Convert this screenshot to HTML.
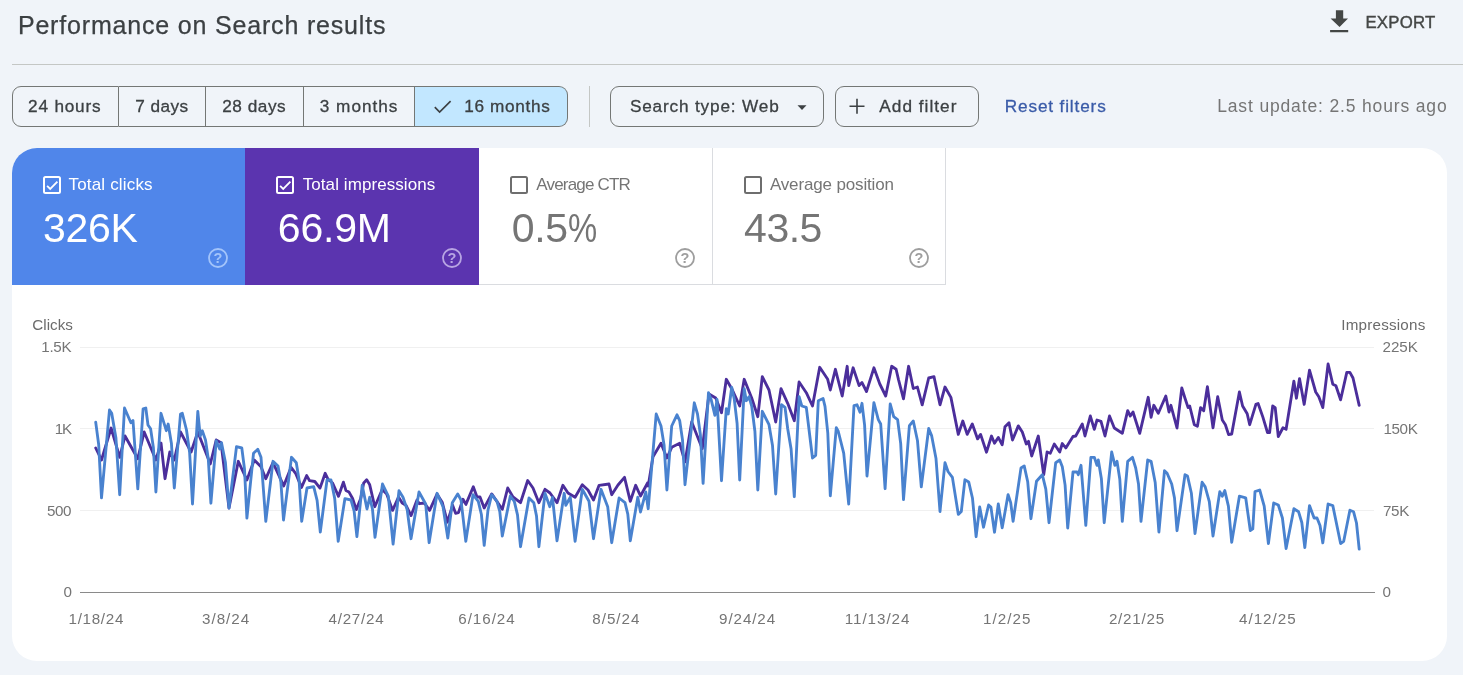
<!DOCTYPE html>
<html lang="en">
<head>
<meta charset="utf-8">
<title>Performance on Search results</title>
<style>
*{box-sizing:border-box;margin:0;padding:0}
html,body{width:1463px;height:675px;overflow:hidden;background:#f0f4f9;font-family:"Liberation Sans",sans-serif}
.a{position:absolute}
.t{position:absolute;white-space:nowrap}
.seg{position:absolute;top:86px;height:41px;border:1px solid #747775;border-left:none}
.btn{position:absolute;top:86px;height:41px;border:1px solid #747775;border-radius:9px}
.cb{position:absolute;top:175.5px;width:18px;height:18px;border:2px solid #fff;border-radius:2.5px}
</style>
</head>
<body>
<!-- header -->
<svg class="a" style="left:1328px;top:8px" width="24" height="26" viewBox="0 0 24 26"><path d="M7.9 2.3h7.3v8.1h4.8L11.55 18.9 2.6 10.4h5.3z M2.1 21.9h18.1v2.3H2.1z" fill="#444746"/></svg>
<div class="a" style="left:12px;top:64px;width:1451px;height:1px;background:#c4c7c5"></div>

<!-- date range segmented buttons -->
<div class="seg" style="left:12px;width:107px;border-left:1px solid #747775;border-radius:9px 0 0 9px"></div>
<div class="seg" style="left:119px;width:87px"></div>
<div class="seg" style="left:206px;width:98px"></div>
<div class="seg" style="left:304px;width:111px"></div>
<div class="seg" style="left:415px;width:153px;border-radius:0 9px 9px 0;background:#c2e7ff"></div>
<svg class="a" style="left:432px;top:98px" width="24" height="18" viewBox="0 0 24 18"><path d="M2.8 9.2l4.8 4.8L18.6 3.2" fill="none" stroke="#3c4043" stroke-width="1.7"/></svg>
<div class="a" style="left:589px;top:86px;width:1px;height:41px;background:#c4c7c5"></div>
<div class="btn" style="left:610px;width:214px"></div>
<svg class="a" style="left:796.2px;top:103.5px" width="12" height="8" viewBox="0 0 12 8"><path d="M1.5 1.2h9L6 6z" fill="#3c4043"/></svg>
<div class="btn" style="left:835px;width:144px"></div>
<svg class="a" style="left:848px;top:97px" width="18" height="18" viewBox="0 0 18 18"><path d="M9 1.8v15M1.5 9.3h15" stroke="#3c4043" stroke-width="1.6" fill="none"/></svg>

<!-- card -->
<div class="a" style="left:12px;top:148px;width:1435px;height:513px;background:#fff;border-radius:25px;overflow:hidden">
  <div class="a" style="left:0;top:0;width:233px;height:137px;background:#5086ea"></div>
  <div class="a" style="left:233px;top:0;width:234px;height:137px;background:#5b34af"></div>
  <div class="a" style="left:467px;top:0;width:234px;height:137px;border-right:1px solid #dadce0;border-bottom:1px solid #dadce0"></div>
  <div class="a" style="left:701px;top:0;width:233px;height:137px;border-right:1px solid #dadce0;border-bottom:1px solid #dadce0"></div>
</div>
<div class="cb" style="left:43px"></div>
<svg class="a" style="left:43px;top:175.5px" width="18" height="18" viewBox="0 0 18 18"><path d="M4.1 9.9l3.1 3 7.2-7.2" fill="none" stroke="#fff" stroke-width="1.8"/></svg>
<div class="cb" style="left:276px"></div>
<svg class="a" style="left:276px;top:175.5px" width="18" height="18" viewBox="0 0 18 18"><path d="M4.1 9.9l3.1 3 7.2-7.2" fill="none" stroke="#fff" stroke-width="1.8"/></svg>
<div class="cb" style="left:510px;border-color:#6e6e6e"></div>
<div class="cb" style="left:744px;border-color:#6e6e6e"></div>
<svg class="a" style="left:207px;top:246.7px" width="22" height="22" viewBox="0 0 22 22"><circle cx="11" cy="11" r="9" fill="none" stroke="#a3c4fa" stroke-width="1.8"/><text x="11" y="16.2" text-anchor="middle" font-family="Liberation Sans,sans-serif" font-size="14.5" font-weight="bold" fill="#a3c4fa">?</text></svg>
<svg class="a" style="left:440.6px;top:246.7px" width="22" height="22" viewBox="0 0 22 22"><circle cx="11" cy="11" r="9" fill="none" stroke="#b8a5e3" stroke-width="1.8"/><text x="11" y="16.2" text-anchor="middle" font-family="Liberation Sans,sans-serif" font-size="14.5" font-weight="bold" fill="#b8a5e3">?</text></svg>
<svg class="a" style="left:674.2px;top:246.7px" width="22" height="22" viewBox="0 0 22 22"><circle cx="11" cy="11" r="9" fill="none" stroke="#9e9e9e" stroke-width="1.8"/><text x="11" y="16.2" text-anchor="middle" font-family="Liberation Sans,sans-serif" font-size="14.5" font-weight="bold" fill="#9e9e9e">?</text></svg>
<svg class="a" style="left:908.2px;top:246.7px" width="22" height="22" viewBox="0 0 22 22"><circle cx="11" cy="11" r="9" fill="none" stroke="#9e9e9e" stroke-width="1.8"/><text x="11" y="16.2" text-anchor="middle" font-family="Liberation Sans,sans-serif" font-size="14.5" font-weight="bold" fill="#9e9e9e">?</text></svg>

<!-- chart -->
<svg class="a" style="left:0;top:0" width="1463" height="675" viewBox="0 0 1463 675">
  <g stroke="#f0f0f0" stroke-width="1" shape-rendering="crispEdges">
    <line x1="80" y1="347.5" x2="1374" y2="347.5"/>
    <line x1="80" y1="428.5" x2="1374" y2="428.5"/>
    <line x1="80" y1="510.5" x2="1374" y2="510.5"/>
  </g>
  <line x1="80" y1="592.5" x2="1374.5" y2="592.5" stroke="#8a8a8a" stroke-width="1" shape-rendering="crispEdges"/>
  <polyline fill="none" stroke="#4b2e9b" stroke-width="2.85" stroke-linejoin="round" stroke-linecap="round" points="95.7,448 101.5,460 111.1,428 119.7,457.3 125,436 137.8,458.7 144.2,432 155.9,460 161,443 165,478.7 169.8,452 174.3,460 180.5,432 191.1,452 197.8,432 210.3,464 216.2,440 221,442.7 229,508 238.3,461.3 246.9,480 254.3,460 261,466.7 265.8,478.7 273,462.7 283.7,485.9 291.1,467.4 295.6,473.3 301.5,487.4 306.7,475.6 309.6,480.7 314.8,481.5 320,488.1 325.2,473.3 328.1,479.3 332.6,483 338.5,496.3 343.4,482.2 345.9,490.4 348.9,491.9 352.6,498.5 356.3,509.6 360.7,498.5 363.7,483 366.7,479.7 369.6,484.4 374.8,506.7 382.2,489.6 386.7,494.1 392.6,510.4 398.5,497 402.2,503 405.9,505.2 411.1,515.6 417,500 419.3,503.7 424.4,503 429.6,510.4 437,494.1 442.2,502.2 447.4,522.2 452.6,505.2 455.6,513.3 458.5,512.6 463,499.3 465.9,504.4 473.3,486.7 477,497 480,497 484.2,508 491.7,493.9 502.3,509.3 507.7,488 513,497 520.5,502.7 527.7,480.5 533,488 538.9,502.7 545,489.3 550,493 557,502.7 562.9,485.3 568,493 575.1,497.3 582.3,484.8 588,490 593.5,500 599.1,485.3 609,484 611.7,494.7 618,485 624.5,477.3 630.3,501.3 635.7,485.3 640.5,496 647.7,482.7 648.2,486 653,456.7 661,443.3 666.9,458 671.7,447.3 679.7,443.3 685,462 691.7,422 702.3,448.7 709,394 715.7,398 721.5,412.7 726.3,379.3 731.7,388.7 739.7,406 744.2,379.3 751.7,398 757.8,416.7 762.3,376.7 769,390 775.7,422 781,388.7 787.7,403.3 794.3,420.7 799.1,382 806.3,392.7 812.5,406 819.7,367.3 827.7,379.3 830.3,390 835.4,369.3 842.2,396 847.2,366.3 848.7,385.6 853.1,367.8 859.1,385.6 862,382.6 866.5,391.5 873.9,367.8 879.8,384 885.7,396 891.7,366.3 896.1,369.3 898.5,379.6 903.5,398.9 908.6,366.3 913.3,388.5 917.4,387 922.2,404.8 928.7,378 934,376.7 940,404.8 945,387 950.9,397.4 958.3,434.4 962.8,421 967.2,434.4 972.3,424 977.6,438.9 980.6,434.4 986.5,452.2 991.5,436 994.5,443.3 998.3,437.4 1002.2,444.8 1005,426.7 1009,422.7 1012.5,440 1018.3,425.9 1022.3,432 1026.3,444 1028.5,441.3 1031.7,456 1038.3,436 1043.7,474.7 1047.1,452 1050.3,453.3 1054.3,444 1059.7,452 1062.3,443.5 1065.8,448 1073,436.5 1075.7,436 1082.3,424 1085,436 1090.3,416 1094.3,429.3 1097,420 1101,421.3 1105,436 1109.5,416 1114.3,428 1122.3,433.3 1127.7,410.7 1130.3,416 1133,412 1139.7,433.3 1148.2,397.3 1151.1,417.3 1153.8,405.3 1158.3,413.3 1165.8,396 1169,412 1170.9,405.3 1177,428 1181.8,388 1185,398.2 1188.1,407.6 1189.7,406 1194.3,424.7 1197.4,426.2 1200.6,407.6 1203.7,410.7 1207.4,386.7 1213,427.8 1217.7,396.7 1222.3,420 1225.4,424.7 1228.6,434.6 1231.7,434 1239.4,392 1242.6,406 1247.2,413.8 1249.7,424.7 1255.9,404.4 1258.1,403.5 1262.8,416.9 1267.5,432.5 1269.6,432.5 1272.7,406 1275.2,407.6 1278.3,436.5 1283,427.8 1286.1,429.3 1293.9,381.1 1296.4,398.2 1299.5,378.6 1304.2,404.4 1309.5,370.2 1315.7,392 1318.8,396.7 1322.8,407.6 1328.1,364 1332.8,384.2 1335.9,385.8 1340.6,399.8 1346.8,372.4 1349.9,372.4 1353,378 1359.2,405.4"/>
  <polyline fill="none" stroke="#4982cf" stroke-width="2.85" stroke-linejoin="round" stroke-linecap="round" points="95.7,422.1 98.7,444.8 101.5,497.9 109.5,409.9 111.7,413.3 115.9,437.7 119.7,494.7 124.5,408 130.9,422.7 133,420.5 137.8,488.8 143.1,408.8 145.8,408 148,425 150.6,428.8 153.4,447.8 155.9,492 161,413.3 166.3,430.7 168.2,424 171.4,443.2 174.3,488 180.5,414 182.3,413.3 186.5,430 189.6,452.2 192.5,504 197.8,411.5 200.2,436 202.3,430.7 205.5,440 208.3,459 210.9,503.2 216.2,440.8 219.7,449 221.5,442.7 225.4,462.3 229,508 236.5,446.7 241.8,448 244.5,469 246.9,518.1 253.5,453.3 257.8,449.3 261,457.3 265.8,521.3 273,461.3 278,466 280.9,482.2 283.5,520 291.5,457.3 296.3,462.7 299.1,480.3 301.7,521.3 307,488 313.7,486.7 317.1,500.3 320.3,532 327,480 331,480 334.7,498.4 338.2,541.3 344.9,498.7 351,500 354.1,510.9 356.9,536.5 362.2,485.3 367,509 369.7,497.3 372.5,509.3 375,537.3 382.5,484 388.3,496 393.1,544 399,490.7 403,497.3 407.2,509.7 411,538.7 419,492 425.7,504 429.1,542.7 437.1,493.3 443,506.7 447.8,538 452.3,502.7 457.7,493.9 461,500 465.8,541.3 473,494.7 478.3,501.3 481.4,514.5 484.2,545.3 488,510 491.7,494.7 497,501.3 499.8,511.7 502.3,536 510.3,496 514.3,501.3 517.5,514.9 520.5,546.7 529,498 533.8,502.7 536.5,515.9 538.9,546.7 545,493.3 549.8,506.7 552.5,497.3 557,540.8 564.2,493.3 565.8,505.3 570.3,497.3 575.1,541.3 582.3,489.3 589,501.3 593.5,538.7 601,489.3 607.7,506.7 611.7,542.7 619.1,498 625,502.7 627.8,514.1 630.3,540.8 637.8,497.3 640.5,512 645.8,492 648.2,508.7 656.2,414 661,426 664.1,445.2 666.9,490 671.7,426 677,414.8 679.7,420.7 682.5,439.9 685,484.7 694.3,402.8 697.5,414 700.4,434.8 703.1,483.3 708.5,392.7 711.1,399.3 714.9,415.3 717,399.3 721.5,480.7 726.3,408.7 728.2,414 731.7,387.3 734.3,399.3 737.1,423.5 739.7,480 744.2,388.7 746.3,400.7 749,396.7 751.7,406 754.9,431.2 757.8,490 762.3,411.3 769,424.7 772.5,445.5 775.7,494 781.5,404.7 785,407.3 787.7,428.7 791.1,449.1 794.3,496.7 799.1,396.7 801.8,406 806.3,407.3 812.5,458 815.7,455.3 818.3,400.7 823.1,398.5 825,406.3 827.8,433.2 830.3,495.8 836.3,427.6 838.3,431.5 843.7,453.2 848.7,504 854,405.7 857,404.8 860,412.2 862,403.3 864.6,425.1 867,476 873.9,402.7 878.3,419.6 880.7,424 885.1,488.7 890.2,404 893.7,416.7 897.6,419.6 900.7,443.6 903.5,499.6 909.4,425.6 913.3,421 917.5,440.8 921.3,486.9 928.7,428.5 931.7,435.9 936,458.6 940,511.5 945,462.6 948,471.5 952.4,477.4 958.3,514.4 961.3,511.5 964.9,479.8 968.7,481.9 972.5,498.3 976.1,536.7 979.7,507 983.5,527.2 988.6,505 990.9,507 994.5,532.2 998.3,504 1002.2,527.8 1008.1,494.6 1010.7,502.6 1013.1,521.3 1021,468 1024.2,465.9 1027.7,481.7 1030.9,518.7 1036.5,481.3 1042.3,474.7 1045.8,489.1 1049,522.7 1055.7,462.7 1059.7,460 1062.3,466.7 1065.1,485.1 1067.7,528 1073,472 1077,472 1078.3,474.7 1081,465.3 1085.8,525.3 1090.9,457.3 1094.3,457.3 1097,465.3 1098.3,460 1101.4,478.8 1104.2,522.7 1111.7,452 1114.9,465.3 1117,461.3 1119.8,479.3 1122.3,521.3 1127.7,461.3 1132.5,457.3 1135.7,468 1138.5,484 1141,521.3 1147.7,460 1151.1,461.3 1155.2,482.5 1158.9,532 1164.5,470.7 1167.1,473.3 1171.7,484 1174.5,498 1177,530.7 1185,474.7 1187.5,476 1191.4,493.3 1195,533.6 1202.1,482.2 1205.2,486.9 1209.3,501.6 1213,536 1219.8,491.6 1222.3,496.2 1224.8,490.6 1228.4,506.1 1231.7,542.3 1239.4,496.2 1245.7,497.8 1250.3,530.5 1252.8,528.9 1255,491.6 1259.7,490 1264.2,506.1 1268.4,543.5 1273.7,503 1278.3,505 1282.4,518 1286.1,548.5 1293.9,508.7 1298.6,511.8 1301.8,522.5 1304.8,547.6 1309.5,505.6 1314.1,518 1317,518 1320,525.5 1322.8,542.9 1328.1,504 1332.8,505.6 1340.6,543.5 1343.7,541.3 1349.9,510.2 1353.6,511.8 1356.5,523 1359.2,549.1"/>
</svg>

<!-- text -->
<div class="t" style="left:17.9px;top:9.7px;font-size:25px;line-height:30px;color:#3c4043;letter-spacing:0.82px;-webkit-text-stroke:.25px #3c4043;">Performance on Search results</div>
<div class="t" style="left:1365.4px;top:13.2px;font-size:16.8px;line-height:20px;color:#444746;letter-spacing:0.22px;-webkit-text-stroke:.4px #444746;">EXPORT</div>
<div class="t" style="left:28.1px;top:96.2px;font-size:17.2px;line-height:21px;color:#3c4043;letter-spacing:0.8px;-webkit-text-stroke:.3px #3c4043;">24 hours</div>
<div class="t" style="left:135.3px;top:96.2px;font-size:17.2px;line-height:21px;color:#3c4043;letter-spacing:0.43px;-webkit-text-stroke:.3px #3c4043;">7 days</div>
<div class="t" style="left:222.2px;top:96.2px;font-size:17.2px;line-height:21px;color:#3c4043;letter-spacing:0.55px;-webkit-text-stroke:.3px #3c4043;">28 days</div>
<div class="t" style="left:319.8px;top:96.2px;font-size:17.2px;line-height:21px;color:#3c4043;letter-spacing:0.99px;-webkit-text-stroke:.3px #3c4043;">3 months</div>
<div class="t" style="left:464.2px;top:96.2px;font-size:17.2px;line-height:21px;color:#3c4043;letter-spacing:0.68px;-webkit-text-stroke:.3px #3c4043;">16 months</div>
<div class="t" style="left:629.9px;top:96.2px;font-size:17.2px;line-height:21px;color:#3c4043;letter-spacing:0.84px;-webkit-text-stroke:.3px #3c4043;">Search type: Web</div>
<div class="t" style="left:879.3px;top:96.2px;font-size:17.2px;line-height:21px;color:#3c4043;letter-spacing:1.03px;-webkit-text-stroke:.3px #3c4043;">Add filter</div>
<div class="t" style="left:1004.8px;top:96.2px;font-size:17.2px;line-height:21px;color:#3a5ba8;letter-spacing:0.85px;-webkit-text-stroke:.3px #3a5ba8;">Reset filters</div>
<div class="t" style="left:1217.2px;top:96px;font-size:17.5px;line-height:21px;color:#757575;letter-spacing:0.85px;">Last update: 2.5 hours ago</div>
<div class="t" style="left:68.6px;top:174.9px;font-size:17px;line-height:20px;color:#fff;letter-spacing:0.16px;">Total clicks</div>
<div class="t" style="left:43px;top:204.3px;font-size:41px;line-height:49px;color:#fff;letter-spacing:-0.29px;">326K</div>
<div class="t" style="left:302.7px;top:174.9px;font-size:17px;line-height:20px;color:#fff;letter-spacing:0.08px;">Total impressions</div>
<div class="t" style="left:277.8px;top:204.3px;font-size:41px;line-height:49px;color:#fff;letter-spacing:-0.19px;">66.9M</div>
<div class="t" style="left:536.3px;top:174.9px;font-size:17px;line-height:20px;color:#757575;letter-spacing:-0.82px;">Average CTR</div>
<div class="t" style="left:511.7px;top:204.3px;font-size:41px;line-height:49px;color:#757575;letter-spacing:-0.3px;">0.5<span style="display:inline-block;transform:scaleX(.8);transform-origin:0 50%;letter-spacing:0">%</span></div>
<div class="t" style="left:769.9px;top:174.9px;font-size:17px;line-height:20px;color:#757575;letter-spacing:-0.15px;">Average position</div>
<div class="t" style="left:744.1px;top:204.3px;font-size:41px;line-height:49px;color:#757575;letter-spacing:-0.5px;">43.5</div>
<div class="t" style="left:32.3px;top:316px;font-size:15.2px;line-height:18px;color:#6b6b6b;letter-spacing:0.02px;">Clicks</div>
<div class="t" style="left:41.2px;top:338.4px;font-size:15.2px;line-height:18px;color:#757575;letter-spacing:-0.25px;">1.5K</div>
<div class="t" style="left:54.7px;top:419.5px;font-size:15.2px;line-height:18px;color:#757575;letter-spacing:-1.2px;">1K</div>
<div class="t" style="left:46.9px;top:501.5px;font-size:15.2px;line-height:18px;color:#757575;letter-spacing:-0.42px;">500</div>
<div class="t" style="left:63.6px;top:583.2px;font-size:15.2px;line-height:18px;color:#757575;letter-spacing:0px;">0</div>
<div class="t" style="left:1341.3px;top:316px;font-size:15.2px;line-height:18px;color:#6b6b6b;letter-spacing:0.21px;">Impressions</div>
<div class="t" style="left:1382.6px;top:338.4px;font-size:15.2px;line-height:18px;color:#757575;letter-spacing:-0.09px;">225K</div>
<div class="t" style="left:1383.4px;top:420px;font-size:15.2px;line-height:18px;color:#757575;letter-spacing:-0.36px;">150K</div>
<div class="t" style="left:1382.9px;top:501.5px;font-size:15.2px;line-height:18px;color:#757575;letter-spacing:-0.27px;">75K</div>
<div class="t" style="left:1382.4px;top:583.2px;font-size:15.2px;line-height:18px;color:#757575;letter-spacing:0px;">0</div>
<div class="t" style="left:68.5px;top:610px;font-size:15.2px;line-height:18px;color:#757575;letter-spacing:0.7px;">1/18/24</div>
<div class="t" style="left:202.1px;top:610px;font-size:15.2px;line-height:18px;color:#757575;letter-spacing:0.97px;">3/8/24</div>
<div class="t" style="left:328.4px;top:610px;font-size:15.2px;line-height:18px;color:#757575;letter-spacing:0.79px;">4/27/24</div>
<div class="t" style="left:458.3px;top:610px;font-size:15.2px;line-height:18px;color:#757575;letter-spacing:0.95px;">6/16/24</div>
<div class="t" style="left:592.3px;top:610px;font-size:15.2px;line-height:18px;color:#757575;letter-spacing:0.97px;">8/5/24</div>
<div class="t" style="left:719.1px;top:610px;font-size:15.2px;line-height:18px;color:#757575;letter-spacing:0.89px;">9/24/24</div>
<div class="t" style="left:844.7px;top:610px;font-size:15.2px;line-height:18px;color:#757575;letter-spacing:0.97px;">11/13/24</div>
<div class="t" style="left:982.9px;top:610px;font-size:15.2px;line-height:18px;color:#757575;letter-spacing:1.07px;">1/2/25</div>
<div class="t" style="left:1108.9px;top:610px;font-size:15.2px;line-height:18px;color:#757575;letter-spacing:0.77px;">2/21/25</div>
<div class="t" style="left:1239px;top:610px;font-size:15.2px;line-height:18px;color:#757575;letter-spacing:0.99px;">4/12/25</div>
</body>
</html>
